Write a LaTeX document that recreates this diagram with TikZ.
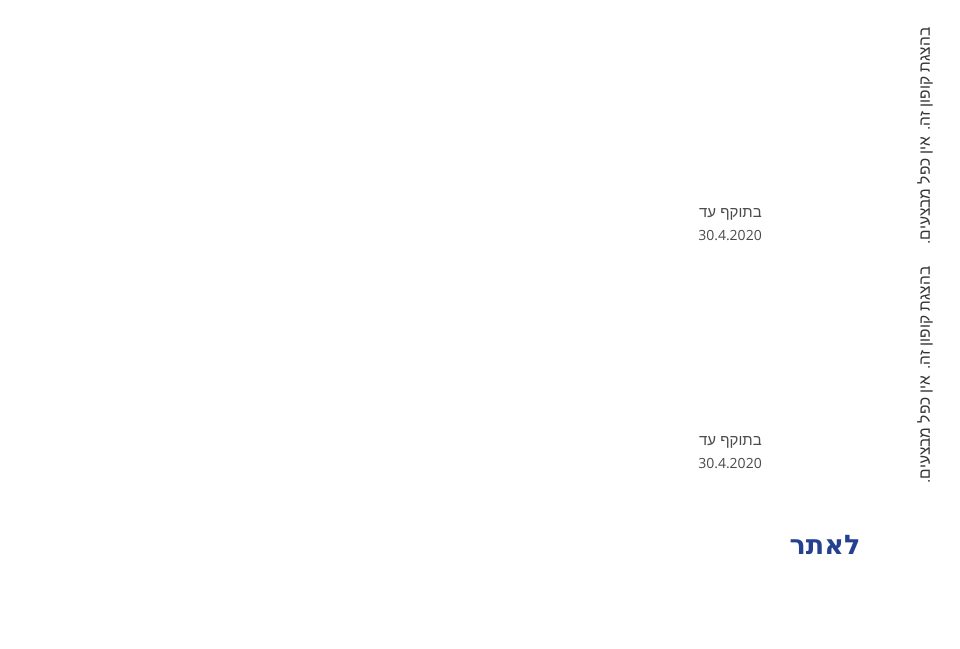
\documentclass[tikz,border=0pt]{standalone}
\usepackage{fontspec}
\setmainfont{Open Sans}
\newfontfamily\hebfont[Script=Hebrew]{Liberation Sans}
\newfontfamily\hebbold[Script=Hebrew]{DejaVu Sans}
\TeXXeTstate=1
\usetikzlibrary{positioning}
\definecolor{textgray}{RGB}{74,74,74}
\definecolor{sidegray}{RGB}{51,51,51}
\definecolor{linkblue}{RGB}{36,64,142}

\begin{document}
\begin{tikzpicture}[x=1pt, y=-1pt, node distance=228pt,
		valid/.style={align=right, text=textgray, inner sep=0pt, font=\fontsize{14}{23}\selectfont},
		side/.style={rotate=90, text=sidegray, inner sep=0pt, font=\hebfont\fontsize{15.5}{18}\selectfont},
		link/.style={text=linkblue, inner sep=0pt, font=\hebbold\bfseries\fontsize{27}{30}\selectfont}]
		\useasboundingbox (0,0) rectangle (960,648);
		% Define nodes
		\node[valid] (validA) at (730,225) {{\hebfont\fontsize{15}{23}\selectfont\beginR בתוקף עד\endR}\\30.4.2020};
		\node[valid, below of=validA] (validB) {{\hebfont\fontsize{15}{23}\selectfont\beginR בתוקף עד\endR}\\30.4.2020};
		\node[side] (sideA) at (925,136) {\beginR בהצגת קופון זה. אין כפל מבצעים.\endR};
		\node[side] (sideB) at (925,375) {\beginR בהצגת קופון זה. אין כפל מבצעים.\endR};
		\node[link] (site) at (825,545) {\beginR לאתר\endR};
	\end{tikzpicture}
\end{document}
